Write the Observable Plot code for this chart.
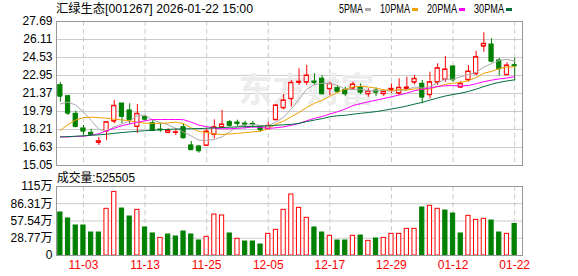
<!DOCTYPE html>
<html><head><meta charset="utf-8">
<script src="https://cdn.jsdelivr.net/npm/d3@7"></script>
<script src="https://cdn.jsdelivr.net/npm/@observablehq/plot@0.6"></script>
<style>
html,body{margin:0;padding:0;background:#fff;}
#chart{position:relative;width:578px;height:276px;overflow:hidden;font-family:"Liberation Sans","Noto Sans CJK SC",sans-serif;}
#chart > svg{position:absolute;left:0;}
</style></head><body><div id="chart"></div>
<script>
const title = "汇绿生态[001267] 2026-01-22 15:00";
const volumeTitle = "成交量";
const dates = ["2025-10-29","2025-10-30","2025-10-31","2025-11-03","2025-11-04","2025-11-05","2025-11-06","2025-11-07","2025-11-10","2025-11-11","2025-11-12","2025-11-13","2025-11-14","2025-11-17","2025-11-18","2025-11-19","2025-11-20","2025-11-21","2025-11-24","2025-11-25","2025-11-26","2025-11-27","2025-11-28","2025-12-01","2025-12-02","2025-12-03","2025-12-04","2025-12-05","2025-12-08","2025-12-09","2025-12-10","2025-12-11","2025-12-12","2025-12-15","2025-12-16","2025-12-17","2025-12-18","2025-12-19","2025-12-22","2025-12-23","2025-12-24","2025-12-25","2025-12-26","2025-12-29","2025-12-30","2025-12-31","2026-01-05","2026-01-06","2026-01-07","2026-01-08","2026-01-09","2026-01-12","2026-01-13","2026-01-14","2026-01-15","2026-01-16","2026-01-19","2026-01-20","2026-01-21","2026-01-22"];
const open = [22.10,21.13,19.59,18.30,17.92,17.07,18.06,18.94,20.49,19.88,18.47,19.29,18.76,18.21,17.95,17.95,18.41,16.81,16.72,16.81,17.77,18.41,18.85,18.82,18.73,18.70,18.41,18.27,19.06,20.11,20.90,22.34,22.36,22.42,22.66,21.78,21.84,21.69,21.84,21.87,21.34,21.63,21.34,21.72,21.40,21.80,22.36,22.22,21.26,22.36,22.60,23.74,21.92,22.57,23.10,25.52,25.67,24.27,23.01,23.85];
const high = [22.34,21.20,19.82,18.56,18.24,17.51,18.85,20.76,20.49,20.47,20.40,19.47,19.00,18.71,18.27,18.27,18.71,17.16,16.81,18.27,19.06,19.88,19.00,19.03,18.94,18.91,18.47,18.85,20.40,21.28,22.51,23.54,23.83,23.10,22.95,22.36,22.07,21.92,22.36,22.22,21.78,21.87,21.69,22.22,22.66,22.80,22.95,22.51,23.24,23.98,24.62,23.80,22.42,23.83,25.08,26.70,26.17,24.47,24.06,24.47];
const low = [20.61,19.44,18.36,17.68,17.62,16.81,17.24,18.71,18.71,18.65,17.86,18.94,18.03,17.97,17.83,17.68,17.39,16.37,16.13,16.72,17.39,18.33,18.41,18.47,18.27,18.33,17.95,18.21,19.00,19.94,20.17,22.07,22.07,22.07,21.26,21.19,21.40,21.11,21.69,21.26,21.05,21.11,21.11,21.37,21.19,21.63,22.13,20.47,20.90,22.07,22.36,22.36,21.84,22.36,22.95,24.99,24.06,22.89,22.95,22.51];
const close = [21.13,19.64,18.47,18.06,17.77,17.18,18.85,20.29,19.35,19.06,19.59,19.11,18.12,18.18,18.12,17.97,17.48,16.43,16.34,18.03,18.41,18.65,18.56,18.73,18.67,18.65,18.18,18.53,20.32,20.76,22.31,22.40,22.95,22.34,21.34,22.22,21.55,21.34,22.16,21.48,21.57,21.48,21.52,21.78,21.87,21.90,22.66,21.05,22.36,23.59,23.48,22.57,22.22,23.30,24.56,25.73,24.20,23.54,23.83,23.80];
// volume in 万 (10k)
const volume = [71.7,61.7,50,50,38.3,38.3,77.8,106,78.3,65,76.1,46.7,36.7,29.4,35,31.7,40,35,25,31.1,68.3,66.7,36.7,27.8,23.3,23.3,18.3,36.1,42.8,76.1,101.7,79.4,62.8,46.7,38.3,32.8,25,25,32.8,33.3,24.4,28.3,29.4,36.1,36.1,44.4,44.4,80,82.8,77.8,75,70,36.7,66.1,59.4,61.1,58.3,38.3,36.1,52.5505];
const ma5 = [20.45,20.62,20.35,19.75,19.01,18.22,18.07,18.43,18.69,18.95,19.43,19.48,19.05,18.81,18.62,18.30,17.97,17.64,17.27,17.25,17.34,17.57,18.00,18.48,18.60,18.65,18.56,18.55,18.87,19.29,20.02,20.86,21.75,22.15,22.27,22.25,22.08,21.76,21.72,21.75,21.62,21.61,21.64,21.57,21.64,21.71,21.95,21.85,21.97,22.31,22.63,22.61,22.84,23.03,23.23,23.68,24.00,24.27,24.37,24.22];
const ma10 = [18.13,18.65,19.05,19.25,19.30,19.25,19.20,19.12,19.05,18.98,18.83,18.77,18.74,18.75,18.79,18.86,18.73,18.34,18.04,17.94,17.82,17.77,17.82,17.87,17.93,18.00,18.07,18.28,18.67,18.95,19.34,19.71,20.15,20.51,20.78,21.14,21.47,21.75,21.94,22.01,21.94,21.84,21.70,21.64,21.70,21.67,21.78,21.75,21.77,21.98,22.17,22.28,22.35,22.50,22.77,23.15,23.31,23.56,23.70,23.72];
const ma20 = [17.56,17.56,17.60,17.62,17.71,17.84,18.10,18.32,18.54,18.70,18.85,18.98,19.09,19.09,19.09,19.09,19.07,18.85,18.59,18.46,18.32,18.27,18.28,18.31,18.36,18.43,18.40,18.31,18.36,18.44,18.58,18.74,18.98,19.19,19.35,19.57,19.77,20.01,20.31,20.48,20.64,20.78,20.93,21.08,21.24,21.40,21.62,21.75,21.85,21.99,22.05,22.06,22.02,22.07,22.23,22.41,22.54,22.65,22.73,22.85];
const ma30 = [17.56,17.58,17.62,17.66,17.70,17.74,17.80,17.87,17.94,18.00,18.06,18.10,18.14,18.18,18.22,18.25,18.27,18.28,18.29,18.32,18.35,18.38,18.41,18.44,18.46,18.48,18.50,18.53,18.58,18.62,18.66,18.75,18.90,19.04,19.16,19.33,19.42,19.46,19.55,19.63,19.70,19.78,19.89,20.01,20.13,20.27,20.44,20.59,20.79,20.98,21.15,21.28,21.40,21.55,21.75,21.98,22.18,22.35,22.47,22.57];
const priceTicks = [15.05,16.63,18.21,19.79,21.37,22.95,24.53,26.11,27.69];
const volumeTicks = [0,28.77,57.54,86.31,115];
const dateTicks = ["2025-11-03","2025-11-13","2025-11-25","2025-12-05","2025-12-17","2025-12-29","2026-01-12","2026-01-22"];
const maNames = ["5PMA","10PMA","20PMA","30PMA"];
const maColors = ["#aaaaaa","#f0a000","#ff00ff","#00703c"];
const watermark = "东方财富";

const RED = "#ff0000", GREEN = "#008000", GRID = "#cccccc", FRAME = "#999999";
const FONT = '"Liberation Sans","Noto Sans CJK SC",sans-serif';

const rows = dates.map((date, i) => ({
  date, open: open[i], high: high[i], low: low[i], close: close[i], vol: volume[i],
  up: close[i] >= open[i],
  volUp: i === 0 ? close[i] >= open[i] : close[i] >= close[i - 1]
}));
const maSeries = [ma5, ma10, ma20, ma30];
const maRows = maSeries.flatMap((arr, k) => arr.map((v, i) => ({date: dates[i], v, k})));

const xScale = {type: "band", domain: dates, paddingInner: 0.45, paddingOuter: 0.225, insetRight: 4, axis: null, label: null};
const candleColor = d => d.up ? RED : GREEN;

const main = Plot.plot({
  width: 578, height: 170, marginTop: 21, marginBottom: 5, marginLeft: 56, marginRight: 56,
  style: {fontFamily: FONT, fontSize: "12px", background: "transparent", overflow: "visible"},
  x: xScale,
  y: {domain: [15.05, 27.69], axis: null, label: null},
  color: {type: "identity"},
  marks: [
    Plot.ruleY(priceTicks.slice(1, -1), {stroke: GRID}),
    Plot.ruleX(dateTicks, {x: d => d, stroke: GRID, strokeDasharray: "5,3"}),
    Plot.text([watermark], {frameAnchor: "top-left", dx: 250, dy: 70, text: d => d, textAnchor: "middle", lineAnchor: "middle", fontSize: 34, fontWeight: "bold", fill: "#ececec"}),
    Plot.ruleX(rows, {x: "date", y1: "low", y2: "high", stroke: candleColor}),
    Plot.barY(rows, {x: "date", y1: "open", y2: "close", fill: d => d.up ? "#ffffff" : GREEN, stroke: candleColor}),
    Plot.tickY(rows, {x: "date", y: "close", stroke: candleColor}),
    Plot.tickY(rows, {x: "date", y: "open", stroke: candleColor}),
    Plot.line(maRows, {x: "date", y: "v", z: "k", stroke: d => maColors[d.k], strokeWidth: 1}),
    Plot.frame({stroke: FRAME}),
    Plot.axisY(priceTicks, {label: null, tickSize: 0, tickPadding: 4, tickFormat: d => d.toFixed(2), fontSize: 12, fill: "#000"})
  ]
});
main.style.top = "0px";

const vol = Plot.plot({
  width: 578, height: 106, marginTop: 16, marginBottom: 21, marginLeft: 56, marginRight: 56,
  style: {fontFamily: FONT, fontSize: "12px", background: "transparent", overflow: "visible"},
  x: xScale,
  y: {domain: [0, 115], axis: null, label: null},
  color: {type: "identity"},
  marks: [
    Plot.ruleY(volumeTicks.slice(1, -1), {stroke: GRID}),
    Plot.ruleX(dateTicks, {x: d => d, stroke: GRID, strokeDasharray: "5,3"}),
    Plot.barY(rows, {x: "date", y: "vol", fill: d => d.volUp ? "#ffffff" : GREEN, stroke: d => d.volUp ? RED : GREEN}),
    Plot.frame({stroke: FRAME}),
    Plot.axisY(volumeTicks, {label: null, tickSize: 0, tickPadding: 4, tickFormat: d => d === 0 ? "0" : d + "万", fontSize: 12, fill: "#000"}),
    Plot.axisX(dateTicks, {label: null, tickSize: 0, tickPadding: 5, tickFormat: d => d.slice(5), fontSize: 12, fill: RED})
  ]
});
vol.style.top = "170px";

const chart = document.getElementById("chart");
chart.append(main, vol);

// overlay: title, legend, volume caption
const svg = d3.select(chart).append("svg")
  .attr("width", 578).attr("height", 276)
  .style("top", "0px").style("pointer-events", "none")
  .style("font-family", FONT).style("font-size", "12px");
svg.append("text").attr("x", 56).attr("y", 13).attr("fill", "#000")
  .attr("textLength", 197).attr("lengthAdjust", "spacingAndGlyphs").text(title);
let lx = 339;
maNames.forEach((name, k) => {
  const w = name.length * 6;
  svg.append("text").attr("x", lx).attr("y", 13).attr("fill", "#000")
    .attr("textLength", w).attr("lengthAdjust", "spacingAndGlyphs").text(name);
  svg.append("rect").attr("x", lx + w + 2).attr("y", 8).attr("width", 6).attr("height", 3).attr("fill", maColors[k]);
  lx += w + 17;
});
const volText = volumeTitle + ":" + Math.round(volume[volume.length - 1] * 10000);
svg.append("text").attr("x", 57).attr("y", 182).attr("fill", "#000")
  .attr("textLength", 78).attr("lengthAdjust", "spacingAndGlyphs").text(volText);
</script></body></html>
